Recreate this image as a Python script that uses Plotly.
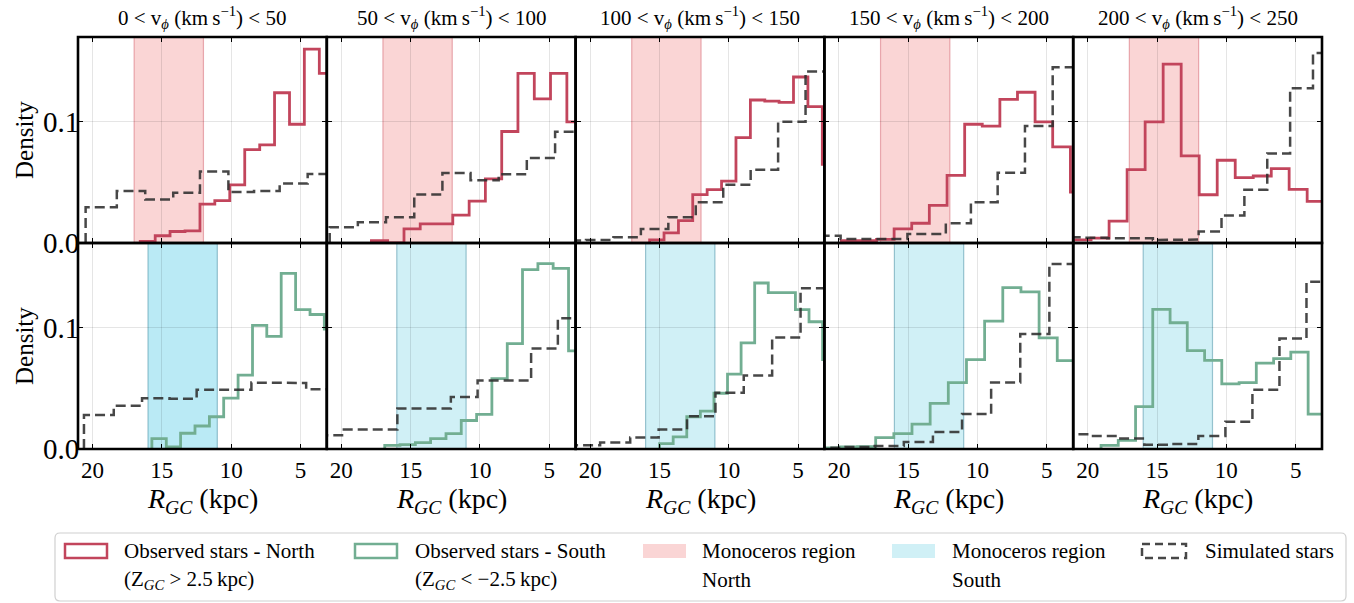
import plotly.graph_objects as go
from plotly.subplots import make_subplots

SERIF = "Liberation Serif, Times New Roman, serif"

# v_phi slices (km/s), one per column
vphi_lo = [0, 50, 100, 150, 200]
vphi_hi = [50, 100, 150, 200, 250]

# axis ticks
r_ticks = [20, 15, 10, 5]
density_ticks = [0.0, 0.1]
density_labels = ["0.0", "0.1"]

# Monoceros ring extent in R_GC (kpc)
mon_north = [17.0, 12.0]
mon_south = [16.0, 11.0]

# Observed stars, north (Z_GC > 2.5 kpc): bin edges (kpc) and densities
north_edges = [
    [16.56, 15.48, 14.41, 13.33, 12.25, 11.18, 10.10, 9.02, 7.94, 6.87, 5.79, 4.72, 3.64, 2.56],
    [17.83, 16.66, 15.48, 14.31, 13.13, 11.96, 10.78, 9.61, 8.43, 7.26, 6.08, 4.91, 3.73, 2.56],
    [15.71, 14.67, 13.63, 12.60, 11.56, 10.52, 9.48, 8.44, 7.40, 6.37, 5.33, 4.29, 3.25, 2.21],
    [19.83, 18.56, 17.29, 16.02, 14.75, 13.48, 12.20, 10.93, 9.66, 8.39, 7.12, 5.85, 4.58, 3.30, 2.03],
    [21.06, 19.76, 18.46, 17.16, 15.86, 14.56, 13.26, 11.96, 10.66, 9.36, 8.06, 6.76, 5.47, 4.17, 2.87],
]
north_dens = [
    [0.0014, 0.006, 0.0095, 0.010, 0.032, 0.035, 0.048, 0.077, 0.081, 0.124, 0.098, 0.160, 0.140],
    [0.002, 0.0, 0.0116, 0.0158, 0.0158, 0.023, 0.0345, 0.053, 0.092, 0.140, 0.119, 0.140, 0.100],
    [0.0025, 0.0083, 0.0185, 0.040, 0.044, 0.051, 0.087, 0.118, 0.117, 0.116, 0.137, 0.1125, 0.065],
    [0.002, 0.002, 0.003, 0.0116, 0.0163, 0.031, 0.0558, 0.098, 0.0965, 0.1186, 0.1244, 0.100, 0.0793, 0.042],
    [0.0025, 0.004, 0.018, 0.0605, 0.100, 0.1476, 0.0719, 0.0398, 0.0683, 0.0539, 0.0553, 0.0614, 0.0442, 0.0343],
]

# Observed stars, south (Z_GC < -2.5 kpc)
south_edges = [
    [15.72, 14.68, 13.65, 12.61, 11.57, 10.54, 9.50, 8.46, 7.43, 6.39, 5.35, 4.31, 3.28, 2.24],
    [16.87, 15.77, 14.66, 13.56, 12.45, 11.35, 10.24, 9.14, 8.03, 6.93, 5.82, 4.72, 3.61, 2.51],
    [14.99, 14.01, 13.03, 12.05, 11.07, 10.09, 9.11, 8.13, 7.15, 6.17, 5.19, 4.21, 3.23, 2.25],
    [21.28, 19.97, 18.66, 17.35, 16.04, 14.73, 13.42, 12.11, 10.80, 9.49, 8.18, 6.87, 5.56, 4.25, 2.94],
    [19.04, 17.80, 16.55, 15.31, 14.06, 12.82, 11.57, 10.33, 9.08, 7.84, 6.59, 5.35, 4.10, 2.86],
]
south_dens = [
    [0.0086, 0.0017, 0.013, 0.019, 0.0266, 0.042, 0.061, 0.102, 0.093, 0.145, 0.115, 0.111, 0.099],
    [0.003, 0.0036, 0.0053, 0.0086, 0.0127, 0.0235, 0.0285, 0.058, 0.087, 0.148, 0.153, 0.149, 0.081],
    [0.0044, 0.010, 0.0266, 0.0313, 0.046, 0.0618, 0.0875, 0.137, 0.129, 0.129, 0.115, 0.105, 0.0737],
    [0.001, 0.0017, 0.002, 0.0094, 0.0127, 0.0205, 0.0377, 0.0548, 0.0737, 0.1055, 0.1332, 0.1296, 0.0917, 0.0729],
    [0.003, 0.0072, 0.0349, 0.1152, 0.1042, 0.0812, 0.0731, 0.0537, 0.0548, 0.0709, 0.0745, 0.080, 0.0288],
]

# Simulated stars, north
sim_north_edges = [
    [20.50, 18.25, 16.20, 14.18, 12.25, 10.20, 8.35, 6.50, 4.48, 2.48],
    [20.84, 18.81, 16.78, 14.74, 12.71, 10.68, 8.65, 6.62, 4.58, 2.55],
    [22.28, 20.30, 18.32, 16.34, 14.36, 12.38, 10.40, 8.42, 6.44, 4.46, 2.48],
    [21.95, 19.88, 17.47, 15.06, 12.29, 10.48, 8.55, 6.58, 4.58, 2.60],
    [21.90, 20.25, 18.60, 16.95, 15.30, 13.65, 12.00, 10.35, 8.70, 7.05, 5.40, 3.75, 2.10],
]
sim_north_dens = [
    [0.0296, 0.043, 0.036, 0.0415, 0.059, 0.042, 0.043, 0.049, 0.057],
    [0.013, 0.0171, 0.0213, 0.040, 0.0578, 0.0517, 0.0567, 0.0702, 0.0918],
    [0.002, 0.0025, 0.0047, 0.0116, 0.0213, 0.0337, 0.048, 0.0605, 0.100, 0.1415],
    [0.006, 0.0033, 0.0033, 0.0075, 0.0163, 0.0337, 0.058, 0.0965, 0.145],
    [0.0047, 0.0044, 0.004, 0.004, 0.0025, 0.0028, 0.0094, 0.0227, 0.044, 0.0738, 0.1277, 0.1567],
]

# Simulated stars, south
sim_south_edges = [
    [20.62, 18.47, 16.43, 14.45, 12.49, 10.50, 8.54, 6.57, 4.59, 2.60],
    [21.75, 19.82, 17.89, 15.96, 14.03, 12.10, 10.17, 8.24, 6.31, 4.38, 2.45],
    [21.33, 19.28, 17.11, 15.06, 13.01, 10.96, 8.92, 6.87, 4.82, 2.77],
    [21.62, 19.52, 17.42, 15.32, 13.22, 11.12, 9.02, 6.92, 4.82, 2.72],
    [21.77, 19.82, 17.87, 15.92, 13.97, 12.02, 10.07, 8.12, 6.17, 4.22, 2.27],
]
sim_south_dens = [
    [0.028, 0.0357, 0.0418, 0.0415, 0.0488, 0.0488, 0.0548, 0.0545, 0.0493],
    [0.0114, 0.016, 0.016, 0.0335, 0.0335, 0.043, 0.0565, 0.0565, 0.083, 0.108],
    [0.003, 0.0053, 0.0094, 0.016, 0.027, 0.0465, 0.0607, 0.092, 0.1327],
    [0.001, 0.0017, 0.0025, 0.0058, 0.0141, 0.0288, 0.0548, 0.095, 0.1526],
    [0.0122, 0.0108, 0.0086, 0.0036, 0.0042, 0.0108, 0.0224, 0.0488, 0.0911, 0.138],
]

RED = "#c2455c"
GREEN = "#72ae92"
SIM = "rgba(45,45,45,0.88)"
PINK_FILL = "rgba(240,128,128,0.33)"
PINK_EDGE = "rgba(215,110,120,0.55)"
CYAN_FILL = "rgba(100,205,225,0.30)"
CYAN_FILL_STRONG = "rgba(90,205,230,0.42)"
CYAN_EDGE = "rgba(80,150,170,0.55)"
GRID = "rgba(0,0,0,0.10)"

W, H = 1354, 603
ML, MR, MT, MB = 78, 32, 37, 154
PW, PH = W - ML - MR, H - MT - MB
X_RANGE = [21.05, 3.1]
Y_RANGE = [0, 0.17]


def px(x):
    return (x - ML) / PW


def py(y):
    return (H - MB - y) / PH


def step_path(edges, vals):
    """Outline of a step histogram, closed down to zero at both ends."""
    xs, ys = [edges[0]], [0.0]
    for i, v in enumerate(vals):
        xs += [edges[i], edges[i + 1]]
        ys += [v, v]
    xs.append(edges[-1])
    ys.append(0.0)
    return xs, ys


fig = make_subplots(rows=2, cols=5, horizontal_spacing=0, vertical_spacing=0)

for c in range(5):
    for r, (oe, od, se, sd, col) in enumerate([
        (north_edges, north_dens, sim_north_edges, sim_north_dens, RED),
        (south_edges, south_dens, sim_south_edges, sim_south_dens, GREEN),
    ]):
        xs, ys = step_path(oe[c], od[c])
        fig.add_trace(go.Scatter(x=xs, y=ys, mode="lines",
                                 line=dict(color=col, width=2.8),
                                 showlegend=False, hoverinfo="skip"),
                      row=r + 1, col=c + 1)
        xs, ys = step_path(se[c], sd[c])
        fig.add_trace(go.Scatter(x=xs, y=ys, mode="lines",
                                 line=dict(color=SIM, width=2.5, dash="10px,5px"),
                                 showlegend=False, hoverinfo="skip"),
                      row=r + 1, col=c + 1)

# Monoceros bands and panel frames
for c in range(5):
    for r in range(2):
        n = r * 5 + c + 1
        suffix = "" if n == 1 else str(n)
        if r == 0:
            x0, x1 = mon_north
            fill, edge = PINK_FILL, PINK_EDGE
        else:
            x0, x1 = mon_south
            fill = CYAN_FILL_STRONG if c == 0 else CYAN_FILL
            edge = CYAN_EDGE
        fig.add_shape(type="rect", xref="x" + suffix, yref="y" + suffix,
                      x0=x0, x1=x1, y0=Y_RANGE[0], y1=Y_RANGE[1], fillcolor=fill,
                      line=dict(color=edge, width=1.2), layer="below")
        fig.add_shape(type="rect", xref="x" + suffix + " domain", yref="y" + suffix + " domain",
                      x0=0, x1=1, y0=0, y1=1, line=dict(color="black", width=2.6),
                      fillcolor="rgba(0,0,0,0)", layer="above")

axis_common = dict(showline=True, linewidth=1, linecolor="black", mirror="ticks",
                   ticks="inside", ticklen=5, tickwidth=1, tickcolor="black",
                   showgrid=True, gridcolor=GRID, gridwidth=1, zeroline=False)

fig.update_xaxes(range=X_RANGE, tickvals=r_ticks, ticktext=[str(t) for t in r_ticks],
                 tickfont=dict(family=SERIF, size=23, color="black"), **axis_common)
fig.update_yaxes(range=Y_RANGE, tickvals=density_ticks, ticktext=density_labels,
                 tickfont=dict(family=SERIF, size=29, color="black"),
                 ticklabelstandoff=-8, **axis_common)
fig.update_xaxes(showticklabels=False, row=1)
for c in range(2, 6):
    fig.update_yaxes(showticklabels=False, col=c)

annotations = []
# column titles and x-axis labels
for c in range(5):
    xc = (c + 0.5) / 5
    annotations.append(dict(
        text=f"{vphi_lo[c]} &lt; v<sub><i>ϕ</i></sub> (km\u2009s<sup>−1</sup>) &lt; {vphi_hi[c]}",
        x=xc, y=py(18), xref="paper", yref="paper", showarrow=False,
        xanchor="center", yanchor="middle", font=dict(family=SERIF, size=21, color="black")))
    annotations.append(dict(
        text="<i>R</i><sub><i>GC</i></sub> (kpc)",
        x=xc, y=py(500), xref="paper", yref="paper", showarrow=False,
        xanchor="center", yanchor="middle", font=dict(family=SERIF, size=28, color="black")))
for yc in (140, 346):
    annotations.append(dict(
        text="Density", x=px(24), y=py(yc), xref="paper", yref="paper", showarrow=False,
        textangle=-90, xanchor="center", yanchor="middle",
        font=dict(family=SERIF, size=25, color="black")))

# legend box
lx0, lx1, ly0, ly1, rad = 55, 1346, 533, 601, 5
rx, ry = rad / PW, rad / PH
X0, X1, Y0, Y1 = px(lx0), px(lx1), py(ly0), py(ly1)
path = (f"M {X0 + rx},{Y0} L {X1 - rx},{Y0} Q {X1},{Y0} {X1},{Y0 - ry} "
        f"L {X1},{Y1 + ry} Q {X1},{Y1} {X1 - rx},{Y1} L {X0 + rx},{Y1} "
        f"Q {X0},{Y1} {X0},{Y1 + ry} L {X0},{Y0 - ry} Q {X0},{Y0} {X0 + rx},{Y0} Z")
fig.add_shape(type="path", path=path, xref="paper", yref="paper",
              line=dict(color="#d0d0d0", width=1.2), fillcolor="white", layer="above")

legend_items = [
    (65, 107, dict(color=RED, width=2.5), None, 122,
     ["Observed stars - North", "(Z<sub><i>GC</i></sub> &gt; 2.5\u2009kpc)"]),
    (355, 397, dict(color=GREEN, width=2.5), None, 413,
     ["Observed stars - South", "(Z<sub><i>GC</i></sub> &lt; −2.5\u2009kpc)"]),
    (643, 686, dict(width=0), PINK_FILL, 700, ["Monoceros region", "North"]),
    (892, 935, dict(width=0), CYAN_FILL, 950, ["Monoceros region", "South"]),
    (1142, 1186, dict(color=SIM, width=2.5, dash="8px,5px"), None, 1203, ["Simulated stars"]),
]
for x0, x1, ln, fill, tx, lines in legend_items:
    fig.add_shape(type="rect", xref="paper", yref="paper",
                  x0=px(x0), x1=px(x1), y0=py(544), y1=py(558),
                  line=ln, fillcolor=fill if fill else "rgba(0,0,0,0)", layer="above")
    for k, t in enumerate(lines):
        annotations.append(dict(
            text=t, x=px(tx), y=py(551 + 29 * k), xref="paper", yref="paper",
            showarrow=False, xanchor="left", yanchor="middle",
            font=dict(family=SERIF, size=21, color="black")))

fig.update_layout(
    width=W, height=H, margin=dict(l=ML, r=MR, t=MT, b=MB),
    paper_bgcolor="white", plot_bgcolor="white", showlegend=False,
    annotations=annotations,
)

fig.write_html("out.html")
